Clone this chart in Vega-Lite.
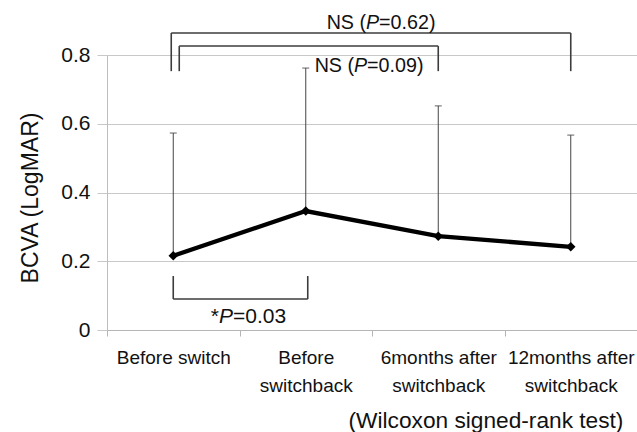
{
  "$schema": "https://vega.github.io/schema/vega-lite/v6.json",
  "autosize": "none",
  "width": 530,
  "height": 275,
  "padding": {"left": 107, "top": 55, "right": 0, "bottom": 102},
  "background": "white",
  "config": {"view": {"stroke": null}, "font": "Liberation Sans"},
  "datasets": {
    "bcva": [
      {"cat": "Before switch", "mean": 0.216, "upper": 0.573},
      {"cat": "Before|switchback", "mean": 0.346, "upper": 0.762},
      {"cat": "6months after|switchback", "mean": 0.273, "upper": 0.652},
      {"cat": "12months after|switchback", "mean": 0.242, "upper": 0.567}
    ],
    "brackets": [
      {"id": "outer", "from": "Before switch", "to": "12months after|switchback", "level": 0.864, "tip": 0.753},
      {"id": "inner", "from": "Before switch", "to": "6months after|switchback", "level": 0.826, "tip": 0.753},
      {"id": "low", "from": "Before switch", "to": "Before|switchback", "level": 0.09, "tip": 0.157}
    ],
    "notes": [
      {"id": "p062", "cat": "Before|switchback", "y": 0.893, "pre": "NS (", "p": "P", "post": "=0.62)"},
      {"id": "p009", "cat": "Before|switchback", "y": 0.768, "pre": "NS (", "p": "P", "post": "=0.09)"},
      {"id": "p003", "cat": "Before switch", "y": 0.038, "pre": "*", "p": "P", "post": "=0.03"}
    ]
  },
  "layer": [
    {
      "data": {"name": "bcva"},
      "mark": {"type": "rule", "color": "#444444", "strokeWidth": 1},
      "encoding": {
        "x": {
          "field": "cat", "type": "nominal", "title": "(Wilcoxon signed-rank test)",
          "scale": {"type": "band", "domain": ["Before switch", "Before|switchback", "6months after|switchback", "12months after|switchback"], "paddingInner": 0, "paddingOuter": 0},
          "axis": {
            "labelExpr": "split(datum.label, '|')", "labelAngle": 0, "labelFontSize": 19, "labelLineHeight": 28,
            "labelPadding": 12, "labelColor": "#111111", "labelOverlap": false, "labelBound": false, "labelLimit": 300,
            "tickBand": "extent", "tickSize": 6, "tickColor": "#b5b5b5", "domainColor": "#b5b5b5", "grid": false,
            "titleX": 378.5, "titleY": 97, "titleAlign": "center", "titleBaseline": "alphabetic",
            "titleFontSize": 22.7, "titleFontWeight": "normal", "titleColor": "#111111"
          }
        },
        "y": {
          "field": "mean", "type": "quantitative", "title": "BCVA (LogMAR)",
          "scale": {"domain": [0, 0.8], "nice": false},
          "axis": {
            "values": [0, 0.2, 0.4, 0.6, 0.8], "format": ".1~f", "grid": true, "gridColor": "#c8c8c8",
            "tickSize": 10, "tickColor": "#c8c8c8", "domainColor": "#bdbdbd", "labelFontSize": 21,
            "labelPadding": 7, "labelColor": "#111111", "titleFontSize": 23, "titleFontWeight": "normal",
            "titleColor": "#111111", "titleX": -77, "titleY": 142.5, "titleAngle": -90, "titleAlign": "center",
            "titleBaseline": "middle"
          }
        },
        "y2": {"field": "upper"}
      }
    },
    {
      "data": {"name": "bcva"},
      "mark": {"type": "tick", "color": "#444444", "size": 7, "thickness": 1.2, "orient": "horizontal"},
      "encoding": {
        "x": {"field": "cat", "type": "nominal", "title": "(Wilcoxon signed-rank test)", "scale": {"type": "band", "domain": ["Before switch", "Before|switchback", "6months after|switchback", "12months after|switchback"], "paddingInner": 0, "paddingOuter": 0}},
        "y": {"field": "upper", "type": "quantitative", "title": "BCVA (LogMAR)", "scale": {"domain": [0, 0.8], "nice": false}}
      }
    },
    {
      "data": {"name": "brackets"},
      "transform": [{"filter": "datum.id == 'outer'"}],
      "layer": [
        {"mark": {"type": "rule", "color": "#3c3c3c", "strokeWidth": 1.6, "xOffset": -2},
         "encoding": {"x": {"field": "from", "type": "nominal", "title": "(Wilcoxon signed-rank test)", "scale": {"type": "band", "domain": ["Before switch", "Before|switchback", "6months after|switchback", "12months after|switchback"], "paddingInner": 0, "paddingOuter": 0}}, "x2": {"field": "to"},
                      "y": {"field": "level", "type": "quantitative", "title": "BCVA (LogMAR)", "scale": {"domain": [0, 0.8], "nice": false}}}},
        {"mark": {"type": "rule", "color": "#3c3c3c", "strokeWidth": 1.6, "xOffset": -2},
         "encoding": {"x": {"field": "from", "type": "nominal", "title": "(Wilcoxon signed-rank test)", "scale": {"type": "band", "domain": ["Before switch", "Before|switchback", "6months after|switchback", "12months after|switchback"], "paddingInner": 0, "paddingOuter": 0}},
                      "y": {"field": "level", "type": "quantitative", "title": "BCVA (LogMAR)", "scale": {"domain": [0, 0.8], "nice": false}}, "y2": {"field": "tip"}}},
        {"mark": {"type": "rule", "color": "#3c3c3c", "strokeWidth": 1.6},
         "encoding": {"x": {"field": "to", "type": "nominal", "title": "(Wilcoxon signed-rank test)", "scale": {"type": "band", "domain": ["Before switch", "Before|switchback", "6months after|switchback", "12months after|switchback"], "paddingInner": 0, "paddingOuter": 0}},
                      "y": {"field": "level", "type": "quantitative", "title": "BCVA (LogMAR)", "scale": {"domain": [0, 0.8], "nice": false}}, "y2": {"field": "tip"}}}
      ]
    },
    {
      "data": {"name": "brackets"},
      "transform": [{"filter": "datum.id == 'inner'"}],
      "layer": [
        {"mark": {"type": "rule", "color": "#3c3c3c", "strokeWidth": 1.6, "xOffset": 6},
         "encoding": {"x": {"field": "from", "type": "nominal", "title": "(Wilcoxon signed-rank test)", "scale": {"type": "band", "domain": ["Before switch", "Before|switchback", "6months after|switchback", "12months after|switchback"], "paddingInner": 0, "paddingOuter": 0}}, "x2": {"field": "to"},
                      "y": {"field": "level", "type": "quantitative", "title": "BCVA (LogMAR)", "scale": {"domain": [0, 0.8], "nice": false}}}},
        {"mark": {"type": "rule", "color": "#3c3c3c", "strokeWidth": 1.6, "xOffset": 6},
         "encoding": {"x": {"field": "from", "type": "nominal", "title": "(Wilcoxon signed-rank test)", "scale": {"type": "band", "domain": ["Before switch", "Before|switchback", "6months after|switchback", "12months after|switchback"], "paddingInner": 0, "paddingOuter": 0}},
                      "y": {"field": "level", "type": "quantitative", "title": "BCVA (LogMAR)", "scale": {"domain": [0, 0.8], "nice": false}}, "y2": {"field": "tip"}}},
        {"mark": {"type": "rule", "color": "#3c3c3c", "strokeWidth": 1.6},
         "encoding": {"x": {"field": "to", "type": "nominal", "title": "(Wilcoxon signed-rank test)", "scale": {"type": "band", "domain": ["Before switch", "Before|switchback", "6months after|switchback", "12months after|switchback"], "paddingInner": 0, "paddingOuter": 0}},
                      "y": {"field": "level", "type": "quantitative", "title": "BCVA (LogMAR)", "scale": {"domain": [0, 0.8], "nice": false}}, "y2": {"field": "tip"}}}
      ]
    },
    {
      "data": {"name": "brackets"},
      "transform": [{"filter": "datum.id == 'low'"}],
      "layer": [
        {"mark": {"type": "rule", "color": "#3c3c3c", "strokeWidth": 1.6, "x2Offset": 2},
         "encoding": {"x": {"field": "from", "type": "nominal", "title": "(Wilcoxon signed-rank test)", "scale": {"type": "band", "domain": ["Before switch", "Before|switchback", "6months after|switchback", "12months after|switchback"], "paddingInner": 0, "paddingOuter": 0}}, "x2": {"field": "to"},
                      "y": {"field": "level", "type": "quantitative", "title": "BCVA (LogMAR)", "scale": {"domain": [0, 0.8], "nice": false}}}},
        {"mark": {"type": "rule", "color": "#3c3c3c", "strokeWidth": 1.6},
         "encoding": {"x": {"field": "from", "type": "nominal", "title": "(Wilcoxon signed-rank test)", "scale": {"type": "band", "domain": ["Before switch", "Before|switchback", "6months after|switchback", "12months after|switchback"], "paddingInner": 0, "paddingOuter": 0}},
                      "y": {"field": "level", "type": "quantitative", "title": "BCVA (LogMAR)", "scale": {"domain": [0, 0.8], "nice": false}}, "y2": {"field": "tip"}}},
        {"mark": {"type": "rule", "color": "#3c3c3c", "strokeWidth": 1.6, "xOffset": 2},
         "encoding": {"x": {"field": "to", "type": "nominal", "title": "(Wilcoxon signed-rank test)", "scale": {"type": "band", "domain": ["Before switch", "Before|switchback", "6months after|switchback", "12months after|switchback"], "paddingInner": 0, "paddingOuter": 0}},
                      "y": {"field": "level", "type": "quantitative", "title": "BCVA (LogMAR)", "scale": {"domain": [0, 0.8], "nice": false}}, "y2": {"field": "tip"}}}
      ]
    },
    {
      "data": {"name": "bcva"},
      "mark": {"type": "line", "color": "#000000", "strokeWidth": 4.3},
      "encoding": {
        "x": {"field": "cat", "type": "nominal", "title": "(Wilcoxon signed-rank test)", "scale": {"type": "band", "domain": ["Before switch", "Before|switchback", "6months after|switchback", "12months after|switchback"], "paddingInner": 0, "paddingOuter": 0}},
        "y": {"field": "mean", "type": "quantitative", "title": "BCVA (LogMAR)", "scale": {"domain": [0, 0.8], "nice": false}}
      }
    },
    {
      "data": {"name": "bcva"},
      "mark": {"type": "point", "shape": "diamond", "filled": true, "color": "#000000", "size": 90, "opacity": 1},
      "encoding": {
        "x": {"field": "cat", "type": "nominal", "title": "(Wilcoxon signed-rank test)", "scale": {"type": "band", "domain": ["Before switch", "Before|switchback", "6months after|switchback", "12months after|switchback"], "paddingInner": 0, "paddingOuter": 0}},
        "y": {"field": "mean", "type": "quantitative", "title": "BCVA (LogMAR)", "scale": {"domain": [0, 0.8], "nice": false}}
      }
    },
    {
      "data": {"name": "notes"},
      "transform": [{"filter": "datum.id == 'p062'"}],
      "encoding": {
        "x": {"field": "cat", "type": "nominal", "bandPosition": 1, "title": "(Wilcoxon signed-rank test)", "scale": {"type": "band", "domain": ["Before switch", "Before|switchback", "6months after|switchback", "12months after|switchback"], "paddingInner": 0, "paddingOuter": 0}},
        "y": {"field": "y", "type": "quantitative", "title": "BCVA (LogMAR)", "scale": {"domain": [0, 0.8], "nice": false}}
      },
      "layer": [
        {"mark": {"type": "text", "align": "right", "baseline": "middle", "fontSize": 19.7, "color": "#111111", "dx": -6}, "encoding": {"text": {"field": "pre"}}},
        {"mark": {"type": "text", "align": "left", "baseline": "middle", "fontSize": 19.7, "fontStyle": "italic", "color": "#111111", "dx": -6}, "encoding": {"text": {"field": "p"}}},
        {"mark": {"type": "text", "align": "left", "baseline": "middle", "fontSize": 19.7, "color": "#111111", "dx": 7.1}, "encoding": {"text": {"field": "post"}}}
      ]
    },
    {
      "data": {"name": "notes"},
      "transform": [{"filter": "datum.id == 'p009'"}],
      "encoding": {
        "x": {"field": "cat", "type": "nominal", "bandPosition": 1, "title": "(Wilcoxon signed-rank test)", "scale": {"type": "band", "domain": ["Before switch", "Before|switchback", "6months after|switchback", "12months after|switchback"], "paddingInner": 0, "paddingOuter": 0}},
        "y": {"field": "y", "type": "quantitative", "title": "BCVA (LogMAR)", "scale": {"domain": [0, 0.8], "nice": false}}
      },
      "layer": [
        {"mark": {"type": "text", "align": "right", "baseline": "middle", "fontSize": 19.7, "color": "#111111", "dx": -18}, "encoding": {"text": {"field": "pre"}}},
        {"mark": {"type": "text", "align": "left", "baseline": "middle", "fontSize": 19.7, "fontStyle": "italic", "color": "#111111", "dx": -18}, "encoding": {"text": {"field": "p"}}},
        {"mark": {"type": "text", "align": "left", "baseline": "middle", "fontSize": 19.7, "color": "#111111", "dx": -4.9}, "encoding": {"text": {"field": "post"}}}
      ]
    },
    {
      "data": {"name": "notes"},
      "transform": [{"filter": "datum.id == 'p003'"}],
      "encoding": {
        "x": {"field": "cat", "type": "nominal", "bandPosition": 1, "title": "(Wilcoxon signed-rank test)", "scale": {"type": "band", "domain": ["Before switch", "Before|switchback", "6months after|switchback", "12months after|switchback"], "paddingInner": 0, "paddingOuter": 0}},
        "y": {"field": "y", "type": "quantitative", "title": "BCVA (LogMAR)", "scale": {"domain": [0, 0.8], "nice": false}}
      },
      "layer": [
        {"mark": {"type": "text", "align": "right", "baseline": "middle", "fontSize": 21, "color": "#111111", "dx": -20.5}, "encoding": {"text": {"field": "pre"}}},
        {"mark": {"type": "text", "align": "left", "baseline": "middle", "fontSize": 21, "fontStyle": "italic", "color": "#111111", "dx": -20.5}, "encoding": {"text": {"field": "p"}}},
        {"mark": {"type": "text", "align": "left", "baseline": "middle", "fontSize": 21, "color": "#111111", "dx": -6.5}, "encoding": {"text": {"field": "post"}}}
      ]
    }
  ]
}
